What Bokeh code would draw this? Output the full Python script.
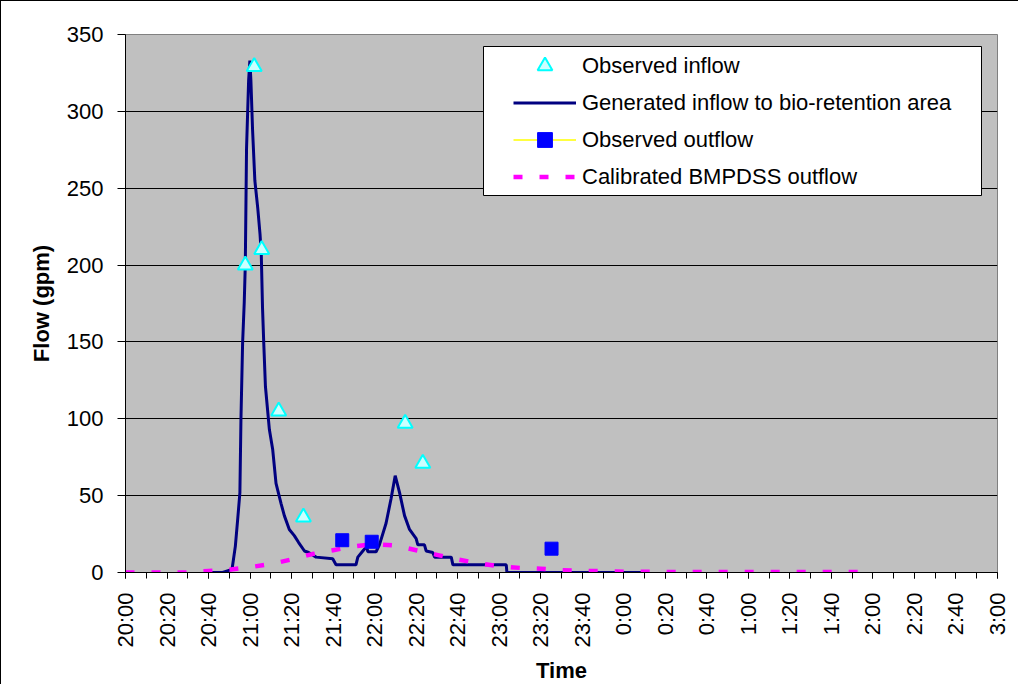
import math
from bokeh.plotting import figure
from bokeh.models import (FixedTicker, Legend, LegendItem, BoxAnnotation, Range1d)
from bokeh.embed import file_html
from bokeh.resources import INLINE

# x values are minutes after 20:00
tick_minutes = [0, 20, 40, 60, 80, 100, 120, 140, 160, 180, 200, 220, 240, 260,
                280, 300, 320, 340, 360, 380, 400, 420]
tick_labels = ["20:00", "20:20", "20:40", "21:00", "21:20", "21:40", "22:00", "22:20",
               "22:40", "23:00", "23:20", "23:40", "0:00", "0:20", "0:40", "1:00",
               "1:20", "1:40", "2:00", "2:20", "2:40", "3:00"]
minor_minutes = [0, 10, 20, 30, 40, 50, 60, 70, 80, 90, 100, 110, 120, 130, 140, 150,
                 160, 170, 180, 190, 200, 210, 220, 230, 240, 250, 260, 270, 280, 290,
                 300, 310, 320, 330, 340, 350, 360, 370, 380, 390, 400, 410, 420]
y_ticks = [0, 50, 100, 150, 200, 250, 300, 350]

# Observed inflow (triangles)
obs_in_t = [57.7, 62.0, 65.6, 73.8, 85.7, 134.7, 143.2]
obs_in_q = [200, 329, 210, 105, 36, 97, 71]

# Generated inflow to bio-retention area (navy line)
gen_t = [40, 46.8, 51.3, 52.9, 54.0, 55.1, 55.6, 56.4, 57.2, 57.7, 58.3, 59.3, 59.9,
         60.4, 61.2, 62.3, 63.7, 64.8, 65.4, 66.0, 66.6, 67.4, 69.3, 70.9, 72.5, 74.9,
         76.5, 78.9, 81.3, 83.4, 86.2, 88.2, 91.8, 99.8, 101.4, 111.0, 111.9, 114.3,
         116.2, 116.7, 120.7, 122.3, 125.5, 127.9, 129.9, 132.0, 134.4, 136.8, 140.0,
         140.8, 144.0, 144.8, 148.0, 148.9, 156.9, 157.7, 183.4, 183.7, 251.7]
gen_q = [0, 0, 2, 17, 34, 52, 99, 149, 176, 200, 276, 320, 333,
         320, 288, 255, 237, 220, 207, 172, 149, 121, 93, 80, 58, 45,
         37, 28, 24, 19.5, 14, 13, 10, 9, 5, 5, 10, 14,
         17, 13.5, 13.5, 18, 32, 48, 63, 52, 37, 28, 22,
         18, 18, 14, 13, 10, 10, 5, 5, 0, 0]

# Observed outflow (blue squares; separate readings, not joined)
obs_out_t = [104.4, 118.6, 205.2]
obs_out_q = [21, 20, 15.5]

# Calibrated BMPDSS outflow (magenta dashed)
cal_t = [0, 10, 20, 30, 40, 50, 60, 70, 80, 90, 100, 110, 120, 130, 140, 150, 160,
         170, 180, 190, 200, 210, 220, 230, 240, 250, 260, 270, 280, 290, 300, 310,
         320, 330, 340, 350, 360]
cal_q = [0, 0, 0, 0, 1, 1.8, 3.5, 5.5, 8.5, 12, 14.5, 17, 18.5, 17.5, 14.5, 11.5, 8.5,
         6, 4, 3, 2.5, 1.5, 1, 1, 0.5, 0.5, 0.3, 0.3, 0.3, 0.3, 0.3, 0.3,
         0.3, 0.3, 0.3, 0.3, 0.3]

FONT = "Liberation Sans"

p = figure(width=1018, height=684, x_range=Range1d(0, 420), y_range=Range1d(0, 350),
           output_backend="svg", toolbar_location=None,
           min_border_left=124, min_border_right=22, min_border_top=33, min_border_bottom=113)
p.styles = {"border-left": "1px solid black", "border-top": "1px solid black",
            "box-sizing": "border-box"}
p.background_fill_color = "#C0C0C0"
p.border_fill_color = "white"
p.outline_line_color = "#808080"
p.outline_line_width = 1
p.xgrid.visible = False
p.ygrid.grid_line_color = "black"
p.ygrid.grid_line_width = 1

p.xaxis.ticker = FixedTicker(ticks=tick_minutes, minor_ticks=minor_minutes)
p.xaxis.major_label_overrides = {t: l for t, l in zip(tick_minutes, tick_labels)}
p.xaxis.major_label_orientation = math.pi / 2
p.yaxis.ticker = FixedTicker(ticks=y_ticks)

for ax in p.axis:
    ax.axis_line_color = "black"
    ax.major_tick_line_color = "black"
    ax.major_tick_in = 0
    ax.major_label_text_font = FONT
    ax.major_label_text_font_size = "22px"
    ax.major_label_text_color = "black"
    ax.axis_label_text_font = FONT
    ax.axis_label_text_font_size = "22px"
    ax.axis_label_text_font_style = "bold"
    ax.axis_label_text_color = "black"

p.xaxis.major_tick_out = 6
p.xaxis.minor_tick_out = 6
p.xaxis.minor_tick_in = 0
p.xaxis.minor_tick_line_color = "black"
p.xaxis.major_label_standoff = 14
p.xaxis.axis_label = "Time"
p.xaxis.axis_label_standoff = 7

p.yaxis.major_tick_out = 8
p.yaxis.minor_tick_line_color = None
p.yaxis.major_label_standoff = 14
p.yaxis.axis_label = "Flow (gpm)"
p.yaxis.axis_label_standoff = 10

# yellow connector of the observed outflow series: gaps between readings
yel_x, yel_y = [], []
for i, (t, q) in enumerate(zip(obs_out_t, obs_out_q)):
    if i:
        yel_x.append(float("nan"))
        yel_y.append(float("nan"))
    yel_x.append(t)
    yel_y.append(q)

gen = p.line(gen_t, gen_q, line_color="#000080", line_width=3)
cal = p.line(cal_t, cal_q, line_color="#FF00FF", line_width=4.5, line_dash="9 17")
yel = p.line(yel_x, yel_y, line_color="#FFFF00", line_width=1.5)
sq = p.scatter(obs_out_t, obs_out_q, marker="square", size=13,
               fill_color="#0000FF", line_color="#0000FF")
tri = p.scatter(obs_in_t, obs_in_q, marker="triangle", size=15,
                fill_color="#CCFFFF", line_color="#00FFFF", line_width=2)

box = BoxAnnotation(left=358, right=856, bottom=377, top=526,
                    left_units="screen", right_units="screen",
                    top_units="screen", bottom_units="screen",
                    fill_color="white", fill_alpha=1, line_color="black",
                    line_width=1, line_alpha=1)
p.add_layout(box)

legend = Legend(items=[
    LegendItem(label="Observed inflow", renderers=[tri]),
    LegendItem(label="Generated inflow to bio-retention area", renderers=[gen]),
    LegendItem(label="Observed outflow", renderers=[yel, sq]),
    LegendItem(label="Calibrated BMPDSS outflow", renderers=[cal]),
], location=(388, 377), padding=0, spacing=0, label_height=37, glyph_height=37,
    glyph_width=63, label_standoff=6, label_text_font=FONT, label_text_font_size="22px",
    label_text_color="black", background_fill_alpha=0, border_line_alpha=0, margin=0)
p.add_layout(legend)

open("out.html", "w").write(file_html(p, INLINE))
